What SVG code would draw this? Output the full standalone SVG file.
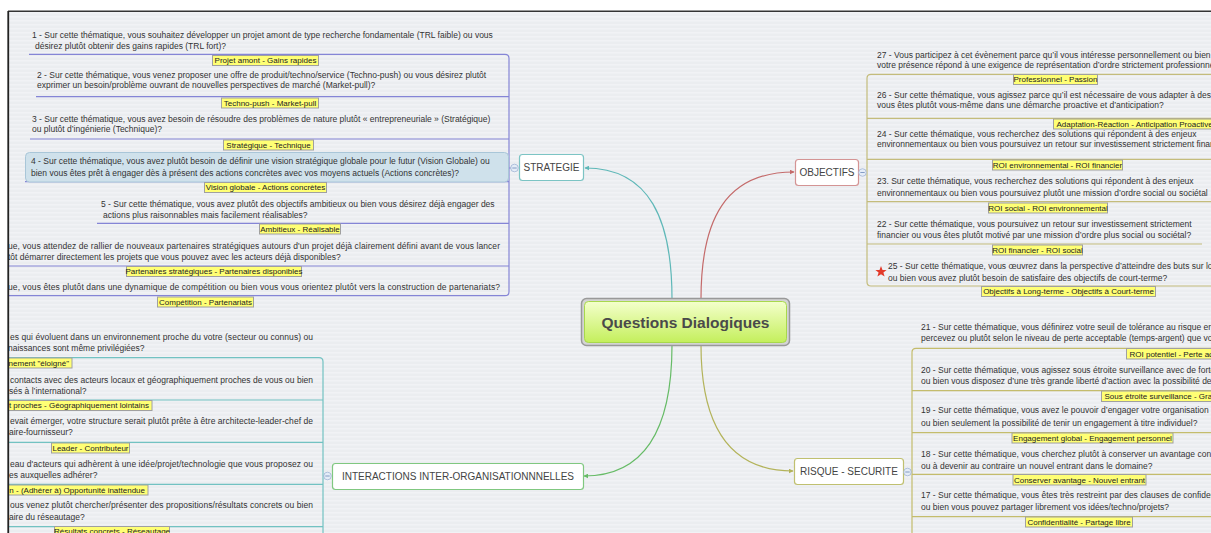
<svg xmlns="http://www.w3.org/2000/svg" width="1211" height="533" viewBox="0 0 1211 533">
<style>
.q{font-family:"Liberation Sans",Arial,sans-serif;font-size:8.5px;fill:#333}
.l{font-family:"Liberation Sans",Arial,sans-serif;font-size:8px;fill:#222}
.lb{fill:#ffff74;stroke:#a0a0a0;stroke-width:1}
.bn{font-family:"Liberation Sans",Arial,sans-serif;font-size:10px;fill:#444;text-anchor:middle}
.box{fill:#fff;stroke-width:1.2}
.ln{fill:none;stroke-width:1.2}
.cir{fill:#e4ecf7;stroke:#9fb4d4;stroke-width:0.8}
.mn{stroke:#6a88b8;stroke-width:0.8}
</style>
<defs>
<pattern id="bg" width="8" height="4" patternUnits="userSpaceOnUse">
<rect width="8" height="4" fill="#ebedf0"/>
<rect width="8" height="1.6" fill="#f1f2f5"/>
</pattern>
<linearGradient id="cg" x1="0" y1="0" x2="0" y2="1">
<stop offset="0" stop-color="#f4ffcc"/>
<stop offset="1" stop-color="#c4ef5c"/>
</linearGradient>
<clipPath id="area"><rect x="9" y="12" width="1210" height="530"/></clipPath>
<marker id="aT" viewBox="0 0 8 8" refX="7" refY="4" markerWidth="5" markerHeight="5" orient="auto" markerUnits="userSpaceOnUse"><path d="M0,0 L8,4 L0,8 z" fill="#5fb8b8"/></marker>
<marker id="aR" viewBox="0 0 8 8" refX="7" refY="4" markerWidth="5" markerHeight="5" orient="auto" markerUnits="userSpaceOnUse"><path d="M0,0 L8,4 L0,8 z" fill="#c46a6a"/></marker>
<marker id="aG" viewBox="0 0 8 8" refX="7" refY="4" markerWidth="5" markerHeight="5" orient="auto" markerUnits="userSpaceOnUse"><path d="M0,0 L8,4 L0,8 z" fill="#66bb66"/></marker>
<marker id="aY" viewBox="0 0 8 8" refX="7" refY="4" markerWidth="5" markerHeight="5" orient="auto" markerUnits="userSpaceOnUse"><path d="M0,0 L8,4 L0,8 z" fill="#b3b35a"/></marker>
</defs>
<rect width="1211" height="533" fill="#fff"/>
<g clip-path="url(#area)">
<rect x="9" y="12" width="1202" height="521" fill="url(#bg)"/>

<g id="connectors">
<path class="ln" d="M672,299 C672,220 650,168 585,168" stroke="#5fb8b8" marker-end="url(#aT)"/>
<path class="ln" d="M701,299 C701,220 725,172 794,172" stroke="#c46a6a" marker-end="url(#aR)"/>
<path class="ln" d="M672,345 C672,420 650,476 584,476" stroke="#66bb66" marker-end="url(#aG)"/>
<path class="ln" d="M701,345 C701,420 725,471 793,471" stroke="#b3b35a" marker-end="url(#aY)"/>
<g stroke="#8585d6" class="ln">
<path d="M29,54.3 H505 Q509,54.3 509,58.3 V291.7 Q509,295.7 505,295.7 H0"/>
<path d="M36,96.7 H509 M30,139 H509 M25,181.7 H509 M97,223.3 H509 M0,266 H509 M509,168 H511"/>
</g>
<g stroke="#72c2c2" class="ln">
<path d="M0,357.7 H319 Q323,357.7 323,361.7 V540"/>
<path d="M0,400 H323 M0,442.3 H323 M0,484.3 H323 M0,526.7 H323 M323,476 H324"/>
</g>
<g stroke="#c4bc7c" class="ln">
<path d="M1215,74.3 H871 Q867,74.3 867,78.3 V282 Q867,286 871,286 H1215"/>
<path d="M867,118.3 H1215 M867,159.3 H1215 M867,201.7 H1215 M867,244 H1202"/>
</g>
<g stroke="#c4bc6c" class="ln">
<path d="M1215,348.3 H916 Q912,348.3 912,352.3 V540"/>
<path d="M912,390.7 H1215 M912,432.7 H1215 M912,474.3 H1215 M912,516.7 H1215 M911,472 H912"/>
</g>
</g>

<g id="central">
<rect x="581.5" y="298.5" width="208" height="47" rx="5" fill="#d4d4d4" stroke="#999" stroke-width="1.5"/>
<rect x="584.5" y="301.5" width="202" height="41" rx="4" fill="url(#cg)" stroke="#a8d84c"/>
<text x="685.5" y="327.5" text-anchor="middle" font-family="Liberation Sans, Arial, sans-serif" font-weight="bold" font-size="15.5" fill="#4a4a4a">Questions Dialogiques</text>
</g>

<g id="strategie">
<rect class="box" x="519.5" y="154.5" width="64" height="26" rx="3" stroke="#7cc4c4"/>
<text class="bn" x="551.5" y="171">STRATEGIE</text>
<circle class="cir" cx="514.5" cy="168" r="3.8"/><path class="mn" d="M512.3,168 H516.7"/>
</g>
<g id="objectifs">
<rect class="box" x="795.5" y="159.5" width="63" height="26" rx="3" stroke="#d49494"/>
<text class="bn" x="827" y="176">OBJECTIFS</text>
<circle class="cir" cx="862.5" cy="172.5" r="3.8"/><path class="mn" d="M860.3,172.5 H864.7"/>
</g>
<g id="interactions">
<rect class="box" x="332.5" y="463.5" width="251" height="26" rx="3" stroke="#80c880"/>
<text class="bn" x="458" y="480">INTERACTIONS INTER-ORGANISATIONNNELLES</text>
<circle class="cir" cx="327.5" cy="476" r="3.8"/><path class="mn" d="M325.3,476 H329.7"/>
</g>
<g id="risque">
<rect class="box" x="794.5" y="458.5" width="109" height="26" rx="3" stroke="#c0c070"/>
<text class="bn" x="849" y="475">RISQUE - SECURITE</text>
<circle class="cir" cx="907.5" cy="472" r="3.8"/><path class="mn" d="M905.3,472 H909.7"/>
</g>

<!-- STRATEGIE questions -->
<g id="q1">
<text class="q" x="32" y="38">1 - Sur cette thématique, vous souhaitez développer un projet amont de type recherche fondamentale (TRL faible) ou vous</text>
<text class="q" x="35" y="49">désirez plutôt obtenir des gains rapides (TRL fort)?</text>
<rect class="lb" x="212.5" y="55.5" width="106" height="10"/>
<text class="l" x="265.5" y="63" text-anchor="middle">Projet amont -  Gains rapides</text>
</g>
<g id="q2">
<text class="q" x="37" y="77.5">2 - Sur cette thématique, vous venez proposer une offre de produit/techno/service (Techno-push) ou vous désirez plutôt</text>
<text class="q" x="37" y="87.5">exprimer un besoin/problème ouvrant de nouvelles perspectives de marché (Market-pull)?</text>
<rect class="lb" x="221.5" y="98" width="97" height="10"/>
<text class="l" x="270" y="105.5" text-anchor="middle">Techno-push - Market-pull</text>
</g>
<g id="q3">
<text class="q" x="32" y="122">3 - Sur cette thématique, vous avez besoin de résoudre des problèmes de nature plutôt « entrepreneuriale » (Stratégique)</text>
<text class="q" x="32" y="132">ou plutôt d’ingénierie (Technique)?</text>
<rect class="lb" x="223.5" y="140" width="90" height="10"/>
<text class="l" x="268.5" y="147.5" text-anchor="middle">Stratégique - Technique</text>
</g>
<g id="q4">
<rect x="25.5" y="152.5" width="483" height="29.5" rx="4" fill="#cfe1eb" stroke="#a9c6d8"/>
<text class="q" x="31" y="163.5">4 - Sur cette thématique, vous avez plutôt besoin de définir une vision stratégique globale pour le futur (Vision Globale) ou</text>
<text class="q" x="31" y="176">bien vous êtes prêt à engager dès à présent des actions concrètes avec vos moyens actuels (Actions concrètes)?</text>
<rect class="lb" x="204.5" y="182.5" width="122" height="10"/>
<text class="l" x="265.5" y="190" text-anchor="middle">Vision globale - Actions concrètes</text>
</g>
<g id="q5">
<text class="q" x="101" y="206.5">5 - Sur cette thématique, vous avez plutôt des objectifs ambitieux ou bien vous désirez déjà engager des</text>
<text class="q" x="103" y="218">actions plus raisonnables mais facilement réalisables?</text>
<rect class="lb" x="259.5" y="224" width="81" height="10"/>
<text class="l" x="300" y="231.5" text-anchor="middle">Ambitieux - Réalisable</text>
</g>
<g id="q6">
<text class="q" x="500" y="248.5" text-anchor="end" textLength="492">ue, vous attendez de rallier de nouveaux partenaires stratégiques autours d'un projet déjà clairement défini avant de vous lancer</text>
<text class="q" x="8" y="260">tôt démarrer directement les projets que vous pouvez avec les acteurs déjà disponibles?</text>
<rect class="lb" x="126.5" y="266.5" width="175" height="10"/>
<text class="l" x="214" y="274" text-anchor="middle">Partenaires stratégiques - Partenaires disponibles</text>
</g>
<g id="q7">
<text class="q" x="500" y="289.5" text-anchor="end" textLength="492">ue, vous êtes plutôt dans une dynamique de compétition ou bien vous vous orientez plutôt vers la construction de partenariats?</text>
<rect class="lb" x="157.5" y="297" width="96" height="10"/>
<text class="l" x="205.5" y="304.5" text-anchor="middle">Compétition - Partenariats</text>
</g>

<!-- INTERACTIONS questions -->
<g id="qa">
<text class="q" x="313" y="339.5" text-anchor="end" textLength="303">es qui évoluent dans un environnement proche du votre (secteur ou connus) ou</text>
<text class="q" x="8" y="351">naissances sont même privilégiées?</text>
<rect class="lb" x="2.5" y="358" width="69.5" height="10"/>
<text class="l" x="69" y="365.5" text-anchor="end">nement "éloigné"</text>
</g>
<g id="qb">
<text class="q" x="313" y="383" text-anchor="end" textLength="303">contacts avec des acteurs locaux et géographiquement proches de vous ou bien</text>
<text class="q" x="9" y="393.5">sés à l’international?</text>
<rect class="lb" x="2.5" y="400.5" width="149.5" height="10"/>
<text class="l" x="149" y="408" text-anchor="end">t proches - Géographiquement lointains</text>
</g>
<g id="qc">
<text class="q" x="313" y="423.5" text-anchor="end" textLength="303">evait émerger, votre structure serait plutôt prête à être architecte-leader-chef de</text>
<text class="q" x="9" y="435">aire-fournisseur?</text>
<rect class="lb" x="51.5" y="443" width="78" height="10"/>
<text class="l" x="90.5" y="450.5" text-anchor="middle">Leader - Contributeur</text>
</g>
<g id="qd">
<text class="q" x="313" y="467" text-anchor="end" textLength="303">eau d'acteurs qui adhèrent à une idée/projet/technologie que vous proposez ou</text>
<text class="q" x="9" y="478">es auxquelles adhérer?</text>
<rect class="lb" x="2.5" y="485" width="145.5" height="10"/>
<text class="l" x="145" y="492.5" text-anchor="end">n - (Adhérer à) Opportunité inattendue</text>
</g>
<g id="qe">
<text class="q" x="313" y="508" text-anchor="end" textLength="303">ous venez plutôt chercher/présenter des propositions/résultats concrets ou bien</text>
<text class="q" x="9" y="519.5">aire du réseautage?</text>
<rect class="lb" x="54.5" y="526.5" width="115" height="10"/>
<text class="l" x="112" y="534" text-anchor="middle">Résultats concrets - Réseautage</text>
</g>

<!-- OBJECTIFS questions -->
<g id="q27">
<text class="q" x="877" y="58">27 - Vous participez à cet évènement parce qu’il vous intéresse personnellement ou bien</text>
<text class="q" x="877" y="68">votre présence répond à une exigence de représentation d’ordre strictement professionnel</text>
<rect class="lb" x="1013.5" y="74.5" width="84" height="10"/>
<text class="l" x="1055.5" y="82" text-anchor="middle">Professionnel - Passion</text>
</g>
<g id="q26">
<text class="q" x="877" y="97.5">26 - Sur cette thématique, vous agissez parce qu’il est nécessaire de vous adapter à des</text>
<text class="q" x="877" y="107.5">vous êtes plutôt vous-même dans une démarche proactive et d’anticipation?</text>
<rect class="lb" x="1053.5" y="119" width="170" height="10"/>
<text class="l" x="1056.5" y="126.5">Adaptation-Réaction - Anticipation Proactive</text>
</g>
<g id="q24">
<text class="q" x="877" y="136.5">24 - Sur cette thématique, vous recherchez des solutions qui répondent à des enjeux</text>
<text class="q" x="877" y="146.5">environnementaux ou bien vous poursuivez un retour sur investissement strictement financier</text>
<rect class="lb" x="992.5" y="160" width="130" height="10"/>
<text class="l" x="1057.5" y="167.5" text-anchor="middle">ROI environnemental - ROI financier</text>
</g>
<g id="q23">
<text class="q" x="877" y="184">23. Sur cette thématique, vous recherchez des solutions qui répondent à des enjeux</text>
<text class="q" x="877" y="195.5">environnementaux ou bien vous poursuivez plutôt une mission d’ordre social ou sociétal</text>
<rect class="lb" x="988.5" y="203" width="119" height="10"/>
<text class="l" x="1048" y="210.5" text-anchor="middle">ROI social - ROI environnemental</text>
</g>
<g id="q22">
<text class="q" x="877" y="226.5">22 - Sur cette thématique, vous poursuivez un retour sur investissement strictement</text>
<text class="q" x="877" y="238">financier ou vous êtes plutôt motivé par une mission d’ordre plus social ou sociétal?</text>
<rect class="lb" x="992.5" y="245" width="90" height="10"/>
<text class="l" x="1037.5" y="252.5" text-anchor="middle">ROI financier - ROI social</text>
</g>
<g id="q25">
<path d="M881,266 L882.5,270 L886.6,270.1 L883.4,272.6 L884.6,276.6 L881,274.2 L877.4,276.6 L878.6,272.6 L875.4,270.1 L879.5,270 Z" fill="#e23a2a"/>
<text class="q" x="888" y="269">25 - Sur cette thématique, vous œuvrez dans la perspective d’atteindre des buts sur long-terme</text>
<text class="q" x="888" y="280.5">ou bien vous avez plutôt besoin de satisfaire des objectifs de court-terme?</text>
<rect class="lb" x="981.5" y="286.5" width="174" height="10"/>
<text class="l" x="1068.5" y="294" text-anchor="middle">Objectifs à Long-terme - Objectifs à Court-terme</text>
</g>

<!-- RISQUE questions -->
<g id="q21">
<text class="q" x="921" y="329.5">21 - Sur cette thématique, vous définirez votre seuil de tolérance au risque en</text>
<text class="q" x="921" y="341">percevez ou plutôt selon le niveau de perte acceptable (temps-argent) que vous</text>
<rect class="lb" x="1126.5" y="348.5" width="100" height="10.5"/>
<text class="l" x="1129.5" y="356.5">ROI potentiel - Perte acceptable</text>
</g>
<g id="q20">
<text class="q" x="921" y="372.5">20 - Sur cette thématique, vous agissez sous étroite surveillance avec de fortes</text>
<text class="q" x="921" y="384">ou bien vous disposez d’une très grande liberté d’action avec la possibilité de</text>
<rect class="lb" x="1101.5" y="391" width="130" height="10.5"/>
<text class="l" x="1104.5" y="399">Sous étroite surveillance - Grande liberté</text>
</g>
<g id="q19">
<text class="q" x="921" y="413">19 - Sur cette thématique, vous avez le pouvoir d’engager votre organisation</text>
<text class="q" x="921" y="425.5">ou bien seulement la possibilité de tenir un engagement à titre individuel?</text>
<rect class="lb" x="1012" y="433" width="161" height="10"/>
<text class="l" x="1092.5" y="440.5" text-anchor="middle">Engagement global - Engagement personnel</text>
</g>
<g id="q18">
<text class="q" x="921" y="457">18 - Sur cette thématique, vous cherchez plutôt à conserver un avantage concurrentiel</text>
<text class="q" x="921" y="468.5">ou à devenir au contraire un nouvel entrant dans le domaine?</text>
<rect class="lb" x="1013" y="474.5" width="133" height="10.5"/>
<text class="l" x="1079.5" y="482.5" text-anchor="middle">Conserver avantage - Nouvel entrant</text>
</g>
<g id="q17">
<text class="q" x="921" y="498">17 - Sur cette thématique, vous êtes très restreint par des clauses de confidentialité</text>
<text class="q" x="921" y="509.5">ou bien vous pouvez partager librement vos idées/techno/projets?</text>
<rect class="lb" x="1025.5" y="517" width="107" height="10"/>
<text class="l" x="1079" y="524.5" text-anchor="middle">Confidentialité - Partage libre</text>
</g>
</g>
<path d="M8,11.25 H1211" stroke="#333" stroke-width="1.5" fill="none"/>
<path d="M8.25,11 V533" stroke="#222" stroke-width="1.8" fill="none"/>
</svg>
